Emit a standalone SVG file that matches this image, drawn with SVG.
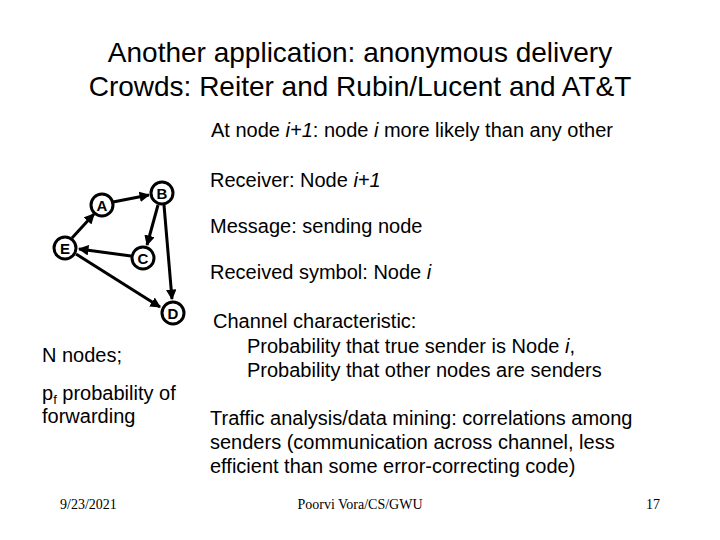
<svg xmlns="http://www.w3.org/2000/svg" width="720" height="540" viewBox="0 0 720 540">
<style>
.t{font-family:"Liberation Sans",Arial,sans-serif;font-size:20px;fill:#000}
.h{font-family:"Liberation Sans",Arial,sans-serif;font-size:28px;fill:#000}
.f{font-family:"Liberation Serif","Times New Roman",serif;font-size:14px;fill:#000}
.n circle{fill:#fff;stroke:#000;stroke-width:3}
.n text{font-family:"Liberation Sans",Arial,sans-serif;font-size:15px;font-weight:bold;text-anchor:middle}
.e line{stroke:#000;stroke-width:3;marker-end:url(#a)}
</style>
<defs><marker id="a" viewBox="0 0 10 10" refX="9" refY="5" markerWidth="3.5" markerHeight="3.5" orient="auto"><path d="M0,0L10,5L0,10z"/></marker></defs>
<rect width="720" height="540" fill="#fff"/>
<text class="h" x="360" y="62" text-anchor="middle">Another application: anonymous delivery</text>
<text class="h" x="360" y="96" text-anchor="middle">Crowds: Reiter and Rubin/Lucent and AT&amp;T</text>
<text class="t" x="211" y="137">At node <tspan font-style="italic">i+1</tspan>: node <tspan font-style="italic">i</tspan> more likely than any other</text>
<g class="e">
<line x1="113" y1="202" x2="149" y2="195"/>
<line x1="158" y1="205" x2="147" y2="245"/>
<line x1="164" y1="205" x2="172" y2="299"/>
<line x1="131" y1="256" x2="79" y2="249"/>
<line x1="72" y1="238" x2="94" y2="214"/>
<line x1="76" y1="254" x2="160" y2="307"/>
</g>
<g id="A" class="n"><circle cx="102" cy="205" r="11"/><text x="102" y="211">A</text></g>
<g id="B" class="n"><circle cx="162" cy="193" r="11"/><text x="162" y="199">B</text></g>
<g id="E" class="n"><circle cx="65" cy="248" r="11"/><text x="65" y="254">E</text></g>
<g id="C" class="n"><circle cx="143" cy="258" r="11"/><text x="143" y="264">C</text></g>
<g id="D" class="n"><circle cx="173" cy="313" r="11"/><text x="173" y="319">D</text></g>
<text class="t" x="210" y="187">Receiver: Node <tspan font-style="italic">i+1</tspan></text>
<text class="t" x="210" y="233">Message: sending node</text>
<text class="t" x="210" y="279">Received symbol: Node <tspan font-style="italic">i</tspan></text>
<text class="t" x="213" y="328">Channel characteristic:</text>
<text class="t" x="247" y="353">Probability that true sender is Node <tspan font-style="italic">i</tspan>,</text>
<text class="t" x="247" y="377">Probability that other nodes are senders</text>
<text class="t" x="42" y="362">N nodes;</text>
<text class="t" x="42" y="400">p<tspan font-size="13" dy="4">f</tspan><tspan dy="-4"> probability of</tspan></text>
<text class="t" x="42" y="423">forwarding</text>
<text class="t" x="210" y="425">Traffic analysis/data mining: correlations among</text>
<text class="t" x="210" y="449">senders (communication across channel, less</text>
<text class="t" x="210" y="473">efficient than some error-correcting code)</text>
<text class="f" x="60" y="509">9/23/2021</text>
<text class="f" x="360" y="509" text-anchor="middle">Poorvi Vora/CS/GWU</text>
<text class="f" x="660" y="509" text-anchor="end">17</text>
</svg>
